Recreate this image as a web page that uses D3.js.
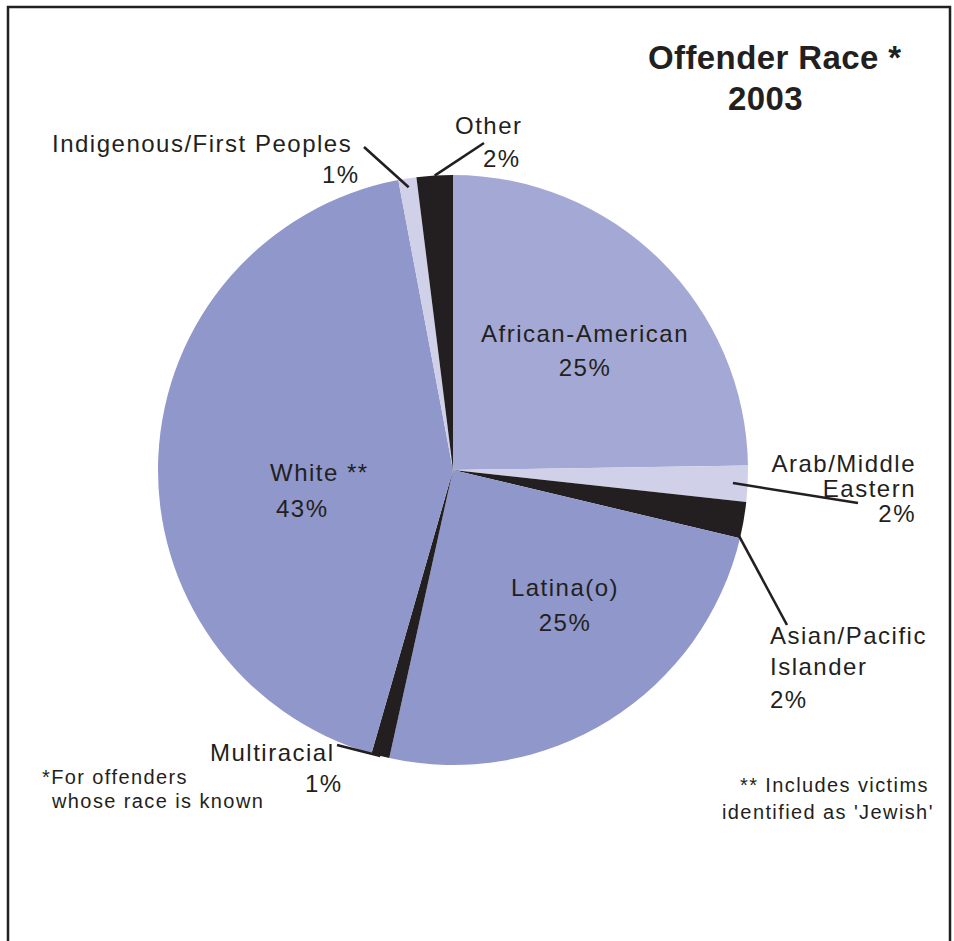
<!DOCTYPE html>
<html>
<head>
<meta charset="utf-8">
<script src="https://cdn.jsdelivr.net/npm/d3@7"></script>
<style>
  html, body { margin: 0; padding: 0; background: #ffffff; }
  svg { display: block; }
  text { font-family: "Liberation Sans", Arial, Helvetica, sans-serif; fill: #231f20; }
</style>
</head>
<body>
<svg id="chart" width="954" height="941"></svg>
<script>
// Offender race shares, 2003 (percent of offenders whose race is known)
const categories = [
  "African-American", "Arab/Middle Eastern", "Asian/Pacific Islander", "Latina(o)",
  "Multiracial", "White", "Indigenous/First Peoples", "Other"
];
const percents = [25, 2, 2, 25, 1, 43, 1, 2];
const nameMarkers = ["", "", "", "", "", "**", "", ""];
// how each category name is broken over lines in its label
const nameLines = [
  ["African-American"],
  ["Arab/Middle", "Eastern"],
  ["Asian/Pacific", "Islander"],
  ["Latina(o)"],
  ["Multiracial"],
  ["White"],
  ["Indigenous/First Peoples"],
  ["Other"]
];
const titleLines = ["Offender Race *", "2003"];
const footnotes = [
  ["*For offenders", "whose race is known"],
  ["** Includes victims", "identified as 'Jewish'"]
];

// ---- layout & style ----
const W = 954, H = 941;
const cx = 453, cy = 470, R = 295;
const ink = "#231f20";
const sliceColors = ["#a3a9d4", "#d0d0e9", "#231f20", "#8f97cb", "#231f20", "#8f97cb", "#d0d0e9", "#231f20"];

// text placement for each label line (x, baseline y, anchor), same order as categories
const labelPlacement = [
  [{x: 585, y: 342, a: "middle"}, {x: 585, y: 376, a: "middle"}],
  [{x: 916, y: 472, a: "end"}, {x: 916, y: 497, a: "end"}, {x: 916, y: 522, a: "end"}],
  [{x: 770, y: 644, a: "start"}, {x: 770, y: 675, a: "start"}, {x: 770, y: 708, a: "start"}],
  [{x: 565, y: 596, a: "middle"}, {x: 565, y: 631, a: "middle"}],
  [{x: 210, y: 761, a: "start"}, {x: 305, y: 792, a: "start"}],
  [{x: 270, y: 481, a: "start"}, {x: 276, y: 517, a: "start"}],
  [{x: 52, y: 152, a: "start"}, {x: 322, y: 183, a: "start"}],
  [{x: 455, y: 134, a: "start"}, {x: 483, y: 167, a: "start"}]
];
// leader lines: outer end near the label, inner end on the slice at a fraction of the radius
const leaders = [
  null,
  {from: [858, 503], r: 0.95},
  {from: [787, 625], r: 0.95},
  null,
  {from: [337, 745], r: 1.0},
  null,
  {from: [364, 147], r: 0.97},
  {from: [484, 143], r: 1.0}
];

const svg = d3.select("#chart");

// frame (open at the bottom)
svg.append("path")
  .attr("d", `M8,${H + 5} L8,7 L950,7 L950,${H + 5}`)
  .attr("fill", "none")
  .attr("stroke", ink)
  .attr("stroke-width", 2.5);

const data = categories.map((c, i) => ({name: c, value: percents[i], i}));
const pie = d3.pie().sort(null).value(d => d.value).startAngle(0).endAngle(2 * Math.PI);
const arcs = pie(data);
const arc = d3.arc().innerRadius(0).outerRadius(R);

const g = svg.append("g").attr("transform", `translate(${cx},${cy})`);
g.selectAll("path.slice")
  .data(arcs)
  .join("path")
  .attr("class", "slice")
  .attr("d", arc)
  .attr("fill", d => sliceColors[d.data.i]);

// point on a slice's bisector at a fraction of the radius
function slicePoint(d, frac) {
  const a = (d.startAngle + d.endAngle) / 2;
  return [cx + frac * R * Math.sin(a), cy - frac * R * Math.cos(a)];
}

// leader lines
arcs.forEach(d => {
  const L = leaders[d.data.i];
  if (!L) return;
  const p = slicePoint(d, L.r);
  svg.append("line")
    .attr("x1", L.from[0]).attr("y1", L.from[1])
    .attr("x2", p[0]).attr("y2", p[1])
    .attr("stroke", ink)
    .attr("stroke-width", 2.6);
});

// slice labels
arcs.forEach(d => {
  const i = d.data.i;
  const lines = nameLines[i].slice();
  if (nameMarkers[i]) lines[lines.length - 1] += " " + nameMarkers[i];
  lines.push(`${d.data.value}%`);
  lines.forEach((t, k) => {
    const pl = labelPlacement[i][k];
    svg.append("text")
      .attr("x", pl.x).attr("y", pl.y)
      .attr("text-anchor", pl.a)
      .style("font-size", "24px")
      .style("letter-spacing", "1.5px")
      .text(t);
  });
});

// title
svg.append("text")
  .attr("x", 648).attr("y", 69)
  .style("font-size", "33px").style("font-weight", "bold")
  .style("letter-spacing", "0.4px")
  .text(titleLines[0]);
svg.append("text")
  .attr("x", 728).attr("y", 110)
  .style("font-size", "33px").style("font-weight", "bold")
  .style("letter-spacing", "0.4px")
  .text(titleLines[1]);

// footnotes
const footPlacement = [
  [{x: 42, y: 784}, {x: 52, y: 808}],
  [{x: 740, y: 792}, {x: 722, y: 819}]
];
footnotes.forEach((f, j) => {
  f.forEach((t, k) => {
    svg.append("text")
      .attr("x", footPlacement[j][k].x).attr("y", footPlacement[j][k].y)
      .style("font-size", "20px")
      .style("letter-spacing", "1.4px")
      .text(t);
  });
});
</script>
</body>
</html>
